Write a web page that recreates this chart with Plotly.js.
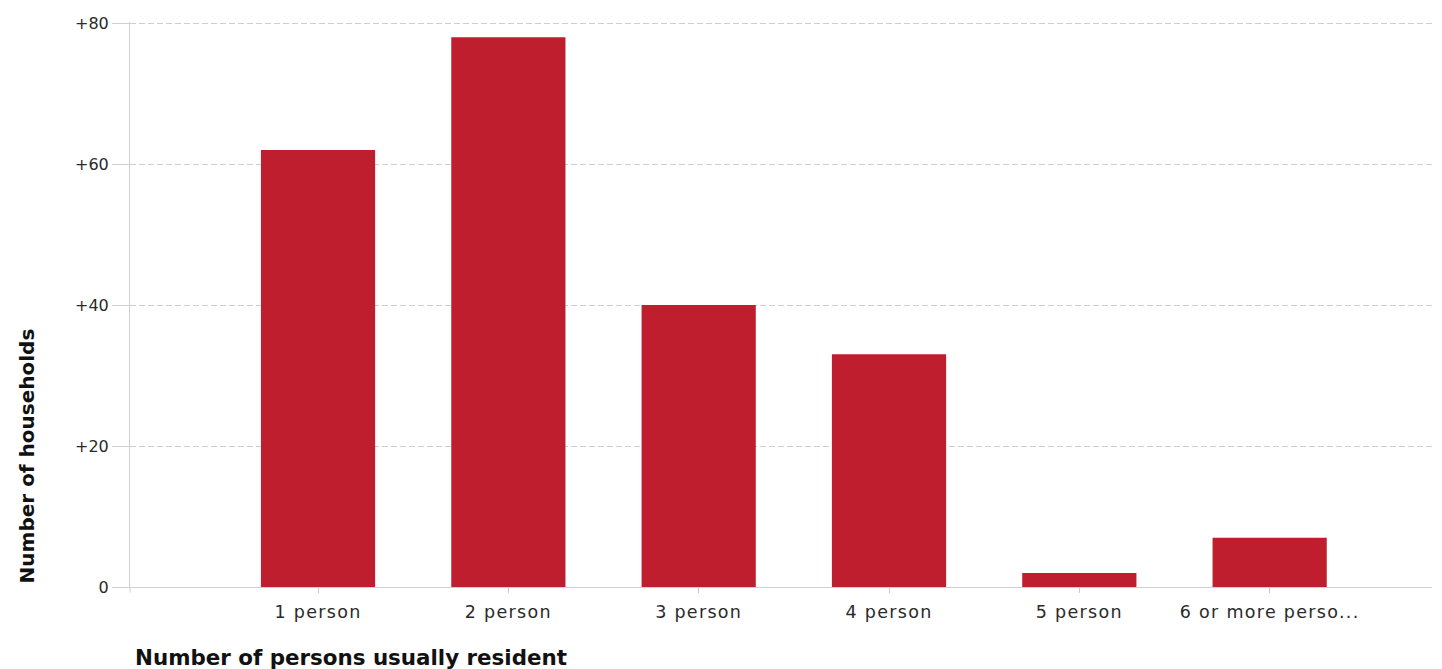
<!DOCTYPE html>
<html>
<head>
<meta charset="utf-8">
<script src="https://cdn.plot.ly/plotly-3.0.1.min.js"></script>
<style>
html,body{margin:0;padding:0;background:#fff;}
#chart{width:1442px;height:669px;}
#chart .xtick text{letter-spacing:1.3px;}
</style>
</head>
<body>
<div id="chart"></div>
<script>
const categories = ["1 person", "2 person", "3 person", "4 person", "5 person", "6 or more perso..."];
const households = [62, 78, 40, 33, 2, 7];
const yTickValues = [0, 20, 40, 60, 80];
const yTickLabels = ["0", "+20", "+40", "+60", "+80"];
const xTitle = "Number of persons usually resident";
const yTitle = "Number of households";

const trace = {
  type: 'bar',
  x: categories,
  y: households,
  width: 0.6,
  marker: {color: '#be1e2d', line: {width: 0}},
  hoverinfo: 'x+y'
};

const layout = {
  width: 1442, height: 669,
  margin: {l: 130, r: 10, t: 22, b: 82},
  paper_bgcolor: '#fff', plot_bgcolor: '#fff',
  showlegend: false,
  font: {family: 'DejaVu Sans, Verdana, sans-serif', size: 16, color: '#333'},
  xaxis: {
    type: 'category',
    range: [-0.988, 5.853],
    showgrid: false,
    zeroline: false,
    showline: true, linecolor: '#d0d0d0', linewidth: 1,
    ticks: 'outside', ticklen: 5, tickcolor: '#c8c8c8',
    ticklabelstandoff: 4,
    tickfont: {size: 17.5, color: '#2a2a2a'}
  },
  yaxis: {
    range: [0, 80.15],
    tickvals: yTickValues, ticktext: yTickLabels,
    showgrid: true, gridcolor: '#cfcfcf', griddash: '6px,3px', gridwidth: 1,
    zeroline: false,
    showline: true, linecolor: '#d0d0d0', linewidth: 1,
    ticks: 'outside', ticklen: 17, tickcolor: '#cfcfcf',
    tickfont: {size: 16, color: '#2a2a2a'}
  },
  annotations: [
    {text: '<b>' + xTitle + '</b>', xref: 'paper', yref: 'paper', x: 0.0023, y: -0.124,
     xanchor: 'left', yanchor: 'middle', showarrow: false,
     font: {family: 'DejaVu Sans, Verdana, sans-serif', size: 21.4, color: '#111'}},
    {text: '<b>' + yTitle + '</b>', xref: 'paper', yref: 'paper', x: -0.0791, y: 0.002,
     xanchor: 'center', yanchor: 'bottom', textangle: -90, showarrow: false,
     font: {family: 'DejaVu Sans, Verdana, sans-serif', size: 20, color: '#111'}}
  ],
  shapes: [
    {type: 'line', xref: 'paper', yref: 'paper', x0: 0, x1: 0, y0: 0, y1: -0.01, line: {color: '#d0d0d0', width: 1}}
  ]
};

Plotly.newPlot('chart', [trace], layout, {displayModeBar: false, staticPlot: true});
</script>
</body>
</html>
